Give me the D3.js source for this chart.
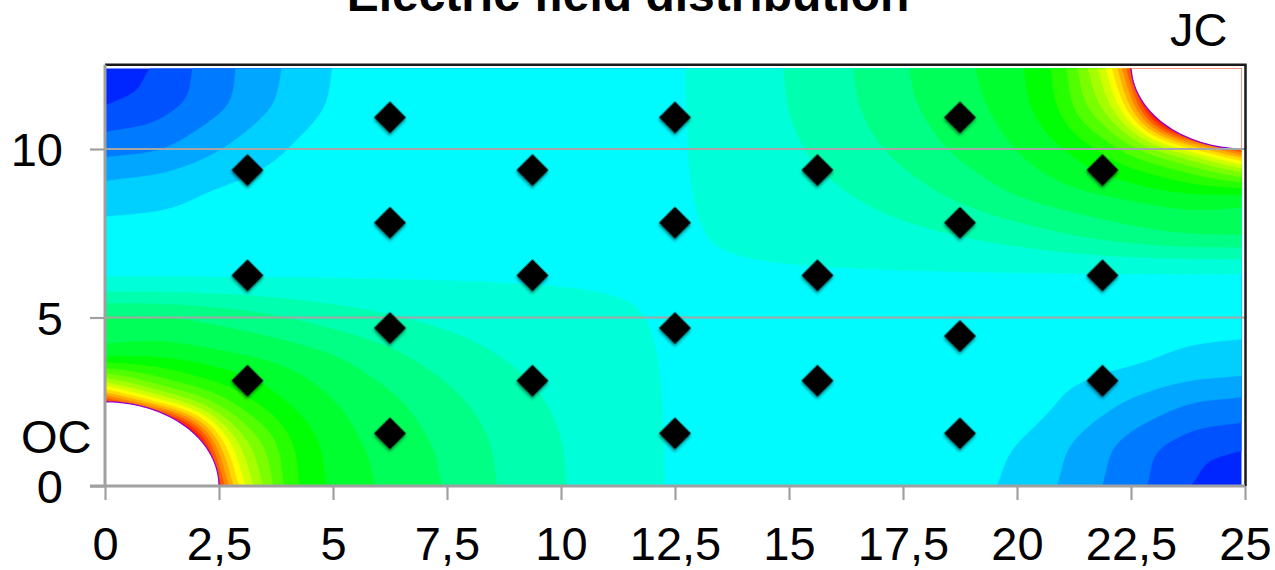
<!DOCTYPE html>
<html><head><meta charset="utf-8">
<script src="https://cdn.jsdelivr.net/npm/d3@7"></script>
<style>body{margin:0;background:#fff}svg{display:block}text{font-family:"Liberation Sans",Arial,sans-serif;fill:#000}</style>
</head><body><svg id="chart" width="1275" height="570"></svg>
<script>
// axis ticks
const xTicks=[0,2.5,5,7.5,10,12.5,15,17.5,20,22.5,25];
const xTickLabels=["0","2,5","5","7,5","10","12,5","15","17,5","20","22,5","25"];
const yTicks=[0,5,10];
const yTickLabels=["0","5","10"];

// probe positions
const probeX=[6.25,12.5,18.75, 3.125,9.375,15.625,21.875, 6.25,12.5,18.75, 3.125,9.375,15.625,21.875, 6.25,12.5,18.75, 3.125,9.375,15.625,21.875, 6.25,12.5,18.75];
const probeY=[10.9375,10.9375,10.9375, 9.375,9.375,9.375,9.375, 7.8125,7.8125,7.8125, 6.25,6.25,6.25,6.25, 4.6875,4.6875,4.45, 3.125,3.125,3.125,3.125, 1.5625,1.5625,1.5625];

// electrodes (quarter discs in the corners)
const electrodeNames=["OC","JC"];
const electrodeCX=[0,25];
const electrodeCY=[0,12.5];
const electrodeR=[2.5,2.5];

// field level on a 1.25 x 1.25 grid, rows from y = 0 upward
const gridX=[0,1.25,2.5,3.75,5,6.25,7.5,8.75,10,11.25,12.5,13.75,15,16.25,17.5,18.75,20,21.25,22.5,23.75,25];
const gridY=[0,1.25,2.5,3.75,5,6.25,7.5,8.75,10,11.25,12.5];
const fieldRows=[
 [70,48,22.5,13.7,10.8,9.8,8.91,7.88,7.07,6.45,5.93,5.85,5.72,5.58,5.40,5.20,4.8,3.6,2.35,1.05,0.30],
 [48,36,19,13.0,10.58,9.63,8.74,7.77,7.01,6.43,5.93,5.86,5.74,5.60,5.43,5.24,5.0,3.95,2.69,1.65,1.19],
 [22.5,17.5,13.6,11.3,10.03,9.19,8.28,7.46,6.84,6.35,5.93,5.88,5.77,5.65,5.51,5.55,5.5,4.75,3.9,3.1,2.78],
 [11.52,11.19,10.49,9.85,9.13,8.31,7.57,7.00,6.58,6.23,5.93,5.91,5.83,5.74,5.63,5.6,5.5,5.35,5.12,4.75,4.55],
 [9.09,8.99,8.60,8.08,7.54,7.08,6.74,6.47,6.26,6.08,5.93,5.94,5.90,5.85,5.79,5.72,5.63,5.53,5.44,5.36,5.34],
 [5.93,5.93,5.93,5.93,5.93,5.93,5.93,5.93,5.93,5.93,5.93,5.93,5.93,5.93,5.93,5.93,5.93,5.93,5.93,5.93,5.93],
 [5.34,5.36,5.44,5.53,5.63,5.72,5.79,5.85,5.90,5.94,5.93,6.08,6.26,6.47,6.74,7.08,7.54,8.08,8.60,8.99,9.09],
 [4.33,4.6,5.05,5.35,5.5,5.6,5.65,5.74,5.83,5.91,5.93,6.23,6.58,7.00,7.57,8.31,9.13,9.85,10.49,11.19,11.52],
 [2.64,3.0,3.95,4.85,5.45,5.55,5.6,5.65,5.77,5.88,5.93,6.35,6.84,7.46,8.28,9.19,10.03,11.3,13.6,17.5,22.5],
 [1.05,1.7,2.85,4.1,5.1,5.26,5.43,5.60,5.74,5.86,5.93,6.43,7.01,7.77,8.74,9.63,10.58,13.0,19,36,48],
 [0.30,1.2,2.6,3.85,5.0,5.22,5.40,5.58,5.72,5.85,5.93,6.45,7.07,7.88,8.91,9.8,10.8,13.7,22.5,48,70]
];

// contour bands: lower bound of each band and its colour
const bandLevels=d3.range(0,24);
const bandColors=["#0026ff","#0051ff","#007bff","#00a6ff","#00d0ff","#00fbff","#00ffd9","#00ffae","#00ff84","#00ff59","#00ff2f","#00ff04",
 "#26ff00","#51ff00","#7bff00","#a6ff00","#d0ff00","#fbff00","#ffd900","#ffae00","#ff8400","#ff5900","#ff2f00","#ff0400"];

const svg=d3.select("#chart");
const x=d3.scaleLinear().domain([0,25]).range([105,1245]);
const y=d3.scaleLinear().domain([0,12.5]).range([486,64.75]);

// smooth resampling of the grid for contouring: Catmull-Rom in a
// square-law space below level 6 so the low corners stay round
const toT=v=>v<6?v*v:36+12*(v-6);
const fromT=t=>t<36?Math.sqrt(Math.max(t,0)):6+(t-36)/12;
const na=gridX.length,nb=gridY.length;
const T=fieldRows.map(r=>r.map(toT));
function g(a,b){
  if(a<0)return 2*g(0,b)-g(1,b);
  if(a>na-1)return 2*g(na-1,b)-g(na-2,b);
  if(b<0)return 2*g(a,0)-g(a,1);
  if(b>nb-1)return 2*g(a,nb-1)-g(a,nb-2);
  return T[b][a];
}
const cr=(p0,p1,p2,p3,t)=>p1+0.5*t*(p2-p0+t*(2*p0-5*p1+4*p2-p3+t*(3*(p1-p2)+p3-p0)));
const sub=10,nx=(na-1)*sub+1,ny=(nb-1)*sub+1,dxCell=(gridX[1]-gridX[0])/sub,dyCell=(gridY[1]-gridY[0])/sub;
const fine=new Float64Array(nx*ny);
for(let j=0;j<ny;j++){
  const b=Math.min(Math.floor(j/sub),nb-2),tb=j/sub-b;
  for(let i=0;i<nx;i++){
    const a=Math.min(Math.floor(i/sub),na-2),ta=i/sub-a;
    const col=[-1,0,1,2].map(db=>cr(g(a-1,b+db),g(a,b+db),g(a+1,b+db),g(a+2,b+db),ta));
    fine[i+j*nx]=fromT(cr(col[0],col[1],col[2],col[3],tb));
  }
}

const defs=svg.append("defs");
defs.append("clipPath").attr("id","plotClip").append("rect")
  .attr("x",x(0)).attr("y",68.5).attr("width",1241.5-x(0)).attr("height",y(0)-68.5);
const sh=defs.append("filter").attr("id","shadow").attr("x","-50%").attr("y","-50%").attr("width","200%").attr("height","200%");
sh.append("feDropShadow").attr("dx",1.5).attr("dy",2).attr("stdDeviation",1.6).attr("flood-color","#000").attr("flood-opacity",0.45);

const proj=d3.geoTransform({point(px,py){this.stream.point(x((px-0.5)*dxCell),y((py-0.5)*dyCell));}});
const path=d3.geoPath(proj);
const contours=d3.contours().size([nx,ny]).thresholds(bandLevels.slice(1))(fine);
const gField=svg.append("g").attr("clip-path","url(#plotClip)");
gField.append("rect").attr("x",x(0)).attr("y",y(12.5)).attr("width",x(25)-x(0)).attr("height",y(0)-y(12.5)).attr("fill",bandColors[0]);
gField.selectAll("path.band").data(contours).join("path").attr("class","band")
  .attr("d",path).attr("fill",d=>bandColors[d.value]).attr("stroke",d=>bandColors[d.value]).attr("stroke-width",0.6);

// electrodes: blank discs with their outline
const arcLine=d3.line().x(d=>x(d[0])).y(d=>y(d[1]));
electrodeNames.forEach((n,e)=>{
  const cx=electrodeCX[e],cy=electrodeCY[e],r=electrodeR[e],a0=cx===0?0:Math.PI;
  const pts=d3.range(0,91).map(t=>{const a=a0+t/90*Math.PI/2;return [cx+r*Math.cos(a),cy+r*Math.sin(a)];});
  gField.append("path").attr("d",arcLine([[cx,cy],...pts,[cx,cy]])).attr("fill","#fff");
  gField.append("path").attr("d",arcLine(pts)).attr("fill","none").attr("stroke","#9900cc").attr("stroke-width",1.3);
});

// horizontal gridlines
svg.append("g").selectAll("line").data(yTicks.slice(1)).join("line")
  .attr("x1",x(0)).attr("x2",x(25)).attr("y1",d=>y(d)).attr("y2",d=>y(d))
  .attr("stroke","#a6a6a6").attr("stroke-width",2);

// plot frame (top and right)
svg.append("path").attr("d",`M${x(0)},${y(12.5)}H${x(25)+0.5}V${y(0)}`).attr("fill","none").attr("stroke","#1a1a1a").attr("stroke-width",2.5);

// axes
const xAxis=d3.axisBottom(x).tickValues(xTicks).tickFormat((d,i)=>xTickLabels[i]).tickSize(14).tickPadding(26);
const gx=svg.append("g").attr("transform",`translate(0,${y(0)})`).call(xAxis);
gx.select(".domain").attr("stroke","#a0a0a0").attr("stroke-width",3).attr("d",`M${x(0)-15},0H${x(25)}`);
gx.selectAll(".tick line").attr("stroke","#a0a0a0").attr("stroke-width",2.2);
gx.selectAll(".tick text").attr("font-size",47).attr("font-family","Liberation Sans, Arial, sans-serif").attr("fill","#000").attr("dy","0.71em").attr("y",41);

const yAxis=d3.axisLeft(y).tickValues(yTicks).tickFormat((d,i)=>yTickLabels[i]).tickSize(15).tickPadding(28);
const gy=svg.append("g").attr("transform",`translate(${x(0)},0)`).call(yAxis);
gy.select(".domain").attr("stroke","#a0a0a0").attr("stroke-width",3).attr("d",`M0,${y(0)}V${y(12.5)}`);
gy.selectAll(".tick line").attr("stroke","#a0a0a0").attr("stroke-width",2.2);
gy.selectAll(".tick text").attr("font-size",47).attr("font-family","Liberation Sans, Arial, sans-serif").attr("fill","#000").attr("x",-42).attr("dy","0.36em");

// probe markers
svg.append("g").selectAll("path").data(probeX.map((d,i)=>[d,probeY[i]])).join("path")
  .attr("d",d3.symbol(d3.symbolSquare,512))
  .attr("transform",d=>`translate(${x(d[0])},${y(d[1])}) rotate(45)`)
  .attr("fill","#000").attr("filter","url(#shadow)");

// title and electrode labels
svg.append("text").attr("x",628).attr("y",11).attr("text-anchor","middle").attr("font-size",48).attr("font-weight","bold").text("Electric field distribution");
svg.append("text").attr("x",1170).attr("y",46).attr("font-size",47).text(electrodeNames[1]);
svg.append("text").attr("x",21).attr("y",453).attr("font-size",47).text(electrodeNames[0]);
</script></body></html>
